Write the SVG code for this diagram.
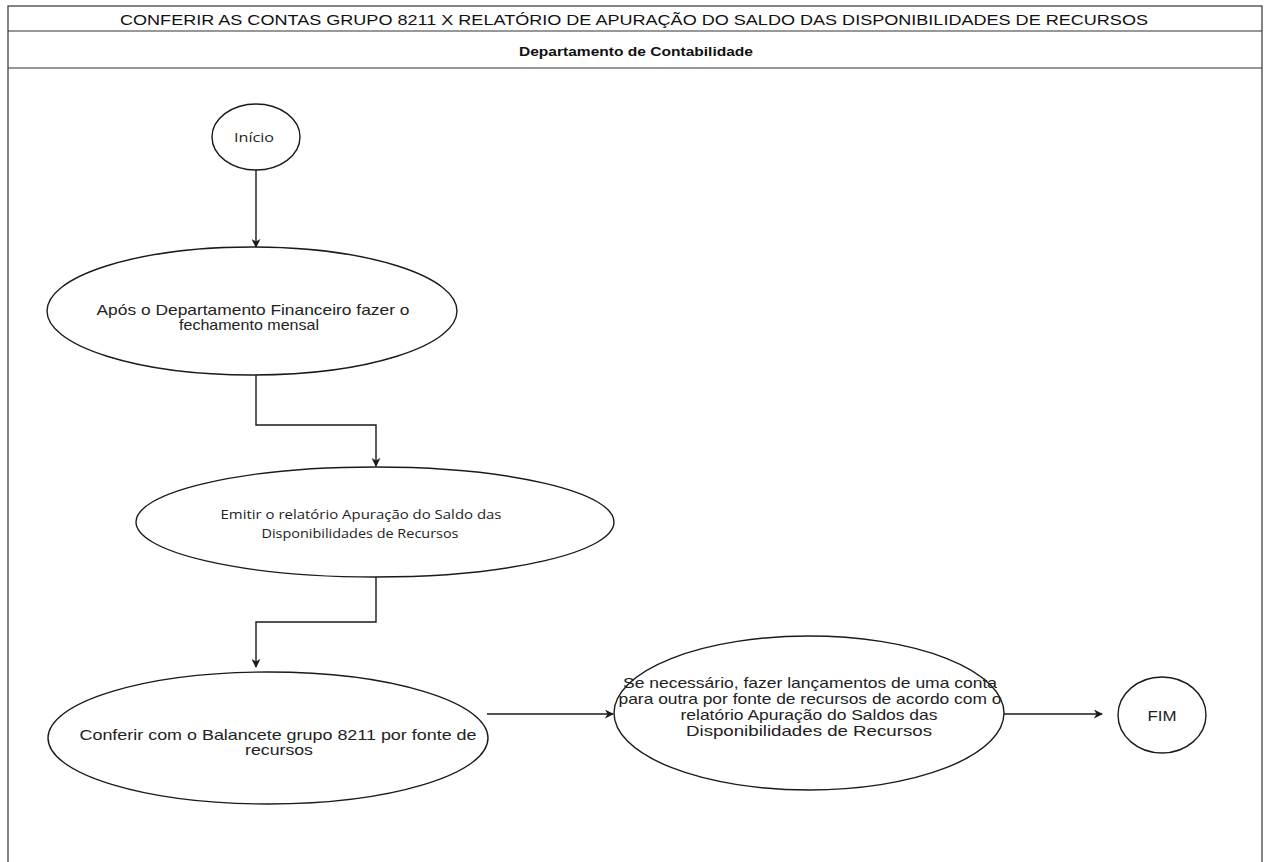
<svg xmlns="http://www.w3.org/2000/svg" width="1265" height="862" viewBox="0 0 1265 862">
  <style>
    .frame { fill: #ffffff; stroke: #333333; stroke-width: 1.2; }
    .node { fill: #ffffff; stroke: #1a1a1a; stroke-width: 1.4; }
    .edge { fill: none; stroke: #1a1a1a; stroke-width: 1.4; }
    .lbl { font-family: "Liberation Sans", Arial, sans-serif; font-size: 14.5px; fill: #222222; text-anchor: middle; }
    .lbl2 { font-family: "Open Sans", "Liberation Sans", sans-serif; font-size: 12px; fill: #222222; text-anchor: middle; }
    .title { font-family: "Liberation Sans", Arial, sans-serif; font-size: 15px; fill: #111111; text-anchor: middle; }
    .sub { font-family: "Liberation Sans", Arial, sans-serif; font-size: 12px; font-weight: bold; fill: #111111; text-anchor: middle; }
  </style>
  <defs>
    <marker id="arrow" viewBox="0 0 10 10" refX="9" refY="5" markerWidth="9" markerHeight="9" markerUnits="userSpaceOnUse" orient="auto">
      <path d="M0,0 L10,5 L0,10 L3,5 Z" fill="#1a1a1a"/>
    </marker>
  </defs>

  <rect width="1265" height="862" fill="#ffffff"/>

  <!-- pool frame with title and lane header -->
  <g id="pool">
    <rect class="frame" x="8" y="6" width="1254" height="860"/>
    <line class="frame" x1="8" y1="31" x2="1262" y2="31"/>
    <line class="frame" x1="8" y1="68" x2="1262" y2="68"/>
    <text class="title" x="634" y="25" textLength="1028" lengthAdjust="spacingAndGlyphs">CONFERIR AS CONTAS GRUPO 8211 X RELATÓRIO DE APURAÇÃO DO SALDO DAS DISPONIBILIDADES DE RECURSOS</text>
    <text class="sub" x="636" y="56" textLength="234" lengthAdjust="spacingAndGlyphs">Departamento de Contabilidade</text>
  </g>

  <!-- connectors -->
  <g id="connectors">
    <path class="edge" d="M256,170 L256,247" marker-end="url(#arrow)"/>
    <path class="edge" d="M256,375 L256,425 L376,425 L376,466" marker-end="url(#arrow)"/>
    <path class="edge" d="M376,576 L376,622 L256,622 L256,667" marker-end="url(#arrow)"/>
    <path class="edge" d="M487,714 L613,714" marker-end="url(#arrow)"/>
    <path class="edge" d="M1004,714 L1102,714" marker-end="url(#arrow)"/>
  </g>

  <g id="inicio">
    <ellipse class="node" cx="256" cy="137" rx="44" ry="33"/>
    <text class="lbl2" x="254" y="142" font-size="13" textLength="40" lengthAdjust="spacingAndGlyphs">Início</text>
  </g>

  <g id="fechamento">
    <ellipse class="node" cx="252" cy="311" rx="205" ry="64"/>
    <text class="lbl" x="253" y="315" textLength="313" lengthAdjust="spacingAndGlyphs">Após o Departamento Financeiro fazer o</text>
    <text class="lbl" x="249" y="330" textLength="140" lengthAdjust="spacingAndGlyphs">fechamento mensal</text>
  </g>

  <g id="emitir">
    <ellipse class="node" cx="375" cy="522" rx="239" ry="55"/>
    <text class="lbl2" x="361" y="519" textLength="281" lengthAdjust="spacingAndGlyphs">Emitir o relatório Apuração do Saldo das</text>
    <text class="lbl2" x="360" y="538" textLength="197" lengthAdjust="spacingAndGlyphs">Disponibilidades de Recursos</text>
  </g>

  <g id="conferir">
    <ellipse class="node" cx="268" cy="738" rx="220" ry="66"/>
    <text class="lbl" x="278" y="740" textLength="397" lengthAdjust="spacingAndGlyphs">Conferir com o Balancete grupo 8211 por fonte de</text>
    <text class="lbl" x="279" y="755" textLength="68" lengthAdjust="spacingAndGlyphs">recursos</text>
  </g>

  <g id="lancamentos">
    <ellipse class="node" cx="809" cy="713" rx="195" ry="77"/>
    <text class="lbl" x="810" y="688" textLength="374" lengthAdjust="spacingAndGlyphs">Se necessário, fazer lançamentos de uma conta</text>
    <text class="lbl" x="810" y="704" textLength="383" lengthAdjust="spacingAndGlyphs">para outra por fonte de recursos de acordo com o</text>
    <text class="lbl" x="809" y="720" textLength="257" lengthAdjust="spacingAndGlyphs">relatório Apuração do Saldos das</text>
    <text class="lbl" x="809" y="736" textLength="246" lengthAdjust="spacingAndGlyphs">Disponibilidades de Recursos</text>
  </g>

  <g id="fim">
    <ellipse class="node" cx="1162" cy="715" rx="44" ry="38"/>
    <text class="lbl" x="1162" y="721" textLength="29" lengthAdjust="spacingAndGlyphs">FIM</text>
  </g>
</svg>
